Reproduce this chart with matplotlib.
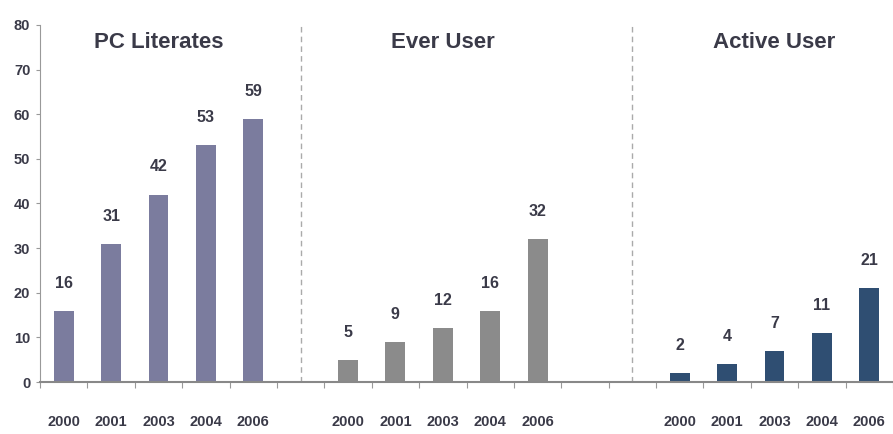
import numpy as np
import matplotlib
matplotlib.use('Agg')
import matplotlib.pyplot as plt

# Data
years = ['2000', '2001', '2003', '2004', '2006']
groups = ['PC Literates', 'Ever User', 'Active User']
pc_literates = [16, 31, 42, 53, 59]
ever_user = [5, 9, 12, 16, 32]
active_user = [2, 4, 7, 11, 21]
yticks = [0, 10, 20, 30, 40, 50, 60, 70, 80]

colors = ['#7b7c9e', '#8b8b8b', '#2f4e72']
text_color = '#3a3a48'

plt.rcParams['font.family'] = ['Liberation Sans', 'DejaVu Sans']

fig = plt.figure(figsize=(8.93, 4.34), dpi=100)
ax = fig.add_axes([40 / 893, 52 / 434, 1 - 40 / 893, 357 / 434])

# slot offsets of each group on the category axis
offsets = [0, 6, 13]
series = [pc_literates, ever_user, active_user]

all_pos = []
all_labels = []
for off, vals, col, name in zip(offsets, series, colors, groups):
    x = np.arange(len(vals)) + off
    ax.bar(x, vals, width=0.42, color=col, edgecolor='none', zorder=2)
    for xi, v in zip(x, vals):
        ax.text(xi, v + 4.5, str(v), ha='center', va='bottom', fontsize=11.5,
                fontweight='bold', color=text_color)
    ax.text(x.mean(), 76, name, ha='center', va='center', fontsize=16,
            fontweight='bold', color=text_color)
    all_pos.extend(x)
    all_labels.extend(years)

# dashed separators between groups
for sep in [5, 12]:
    ax.axvline(sep, ymin=0, ymax=1.0, color='#aaaaaa', linestyle=(0, (4, 3)),
               linewidth=1, zorder=1)

ax.set_xlim(-0.5, 17.27)
ax.set_ylim(0, 80)
ax.set_yticks(yticks)
ax.set_yticklabels([str(t) for t in yticks], fontsize=10.5, fontweight='bold',
                   color=text_color)

# ticks at category boundaries, year labels at bar centres
ax.set_xticks(np.arange(-0.5, 18, 1))
ax.set_xticklabels([])
ax.tick_params(axis='x', length=4, color='#999999', direction='out')
ax.tick_params(axis='y', length=3, color='#999999', pad=4)
for xp, lab in zip(all_pos, all_labels):
    ax.text(xp, -9, lab, ha='center', va='center', fontsize=10.5,
            fontweight='bold', color=text_color, clip_on=False)

for s in ['top', 'right']:
    ax.spines[s].set_visible(False)
ax.spines['left'].set_color('#999999')
ax.spines['bottom'].set_color('#888888')
ax.spines['bottom'].set_linewidth(1.5)

fig.savefig('out.png', dpi=100)
